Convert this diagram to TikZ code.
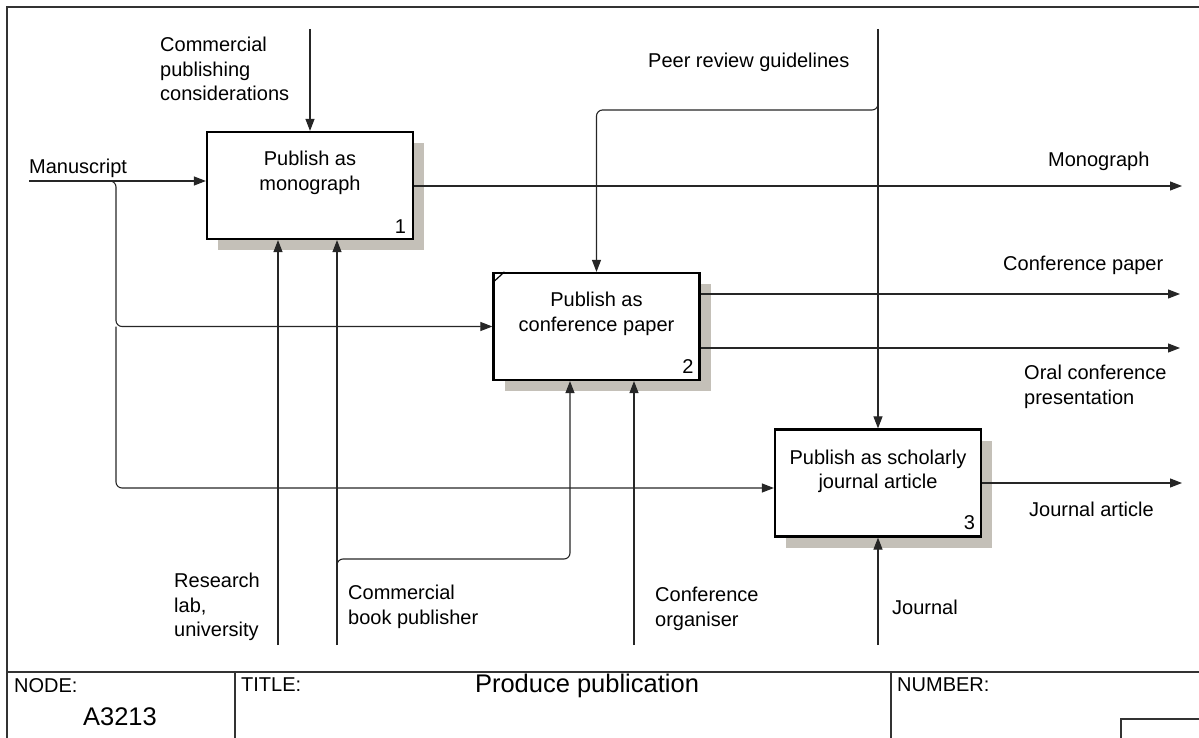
\documentclass[tikz,border=0pt]{standalone}
\usepackage{fontspec}
\setmainfont{Liberation Sans}
\usetikzlibrary{arrows.meta,shadows,calc}
\definecolor{shadowc}{RGB}{196,192,184}
\begin{document}
\begin{tikzpicture}[x=1pt,y=-1pt,
  every node/.style={font=\fontsize{20}{24.5}\selectfont, inner sep=0pt},
  box/.style={draw, line width=2.2pt, fill=white, minimum width=206pt, minimum height=107pt,
    drop shadow={shadow xshift=11pt, shadow yshift=-11pt, fill=shadowc, opacity=1}},
  conn/.style={line width=1.1pt, draw=black!85},
  arr/.style={conn, -{Triangle[length=12pt,width=9pt]}},
  rc/.style={rounded corners=6pt},
  lbl/.style={anchor=north west, align=left},
  btxt/.style={anchor=north, align=center},
  num/.style={anchor=base east},
  framec/.style={line width=1.5pt, draw=black!80},
  bigtxt/.style={font=\fontsize{25.5}{30}\selectfont}]
\useasboundingbox (0,0) rectangle (1199,738);

% frame and title block
\draw[framec] (7,738) -- (7,7) -- (1199,7);
\draw[framec] (7,672) -- (1199,672);
\draw[framec] (235,672) -- (235,738);
\draw[framec] (891,672) -- (891,738);
\draw[framec] (1121,738) -- (1121,719) -- (1199,719);
\node[lbl] (nodelbl) at (14,678) {NODE:};
\node[lbl] (titlelbl) at (241,678) {TITLE:};
\node[lbl] (numberlbl) at (897,678) {NUMBER:};
\node[bigtxt, anchor=north] (nodeval) at (120,707) {A3213};
\node[bigtxt, anchor=north] (titleval) at (587,674) {Produce publication};

% activity boxes
\node[box] (b1) at (310,185.5) {};
\node[box] (b2) at (596.5,326.5) {};
\node[box] (b3) at (878,483) {};
\draw[line width=1.2pt] ([yshift=-11pt]b2.north west) -- ([xshift=12pt]b2.north west);

\node[btxt] (t1) at ([yshift=-20pt]b1.north) {Publish as\\monograph};
\node[btxt] (t2) at ([yshift=-20pt]b2.north) {Publish as\\conference paper};
\node[btxt] (t3) at ([yshift=-21pt]b3.north) {Publish as scholarly\\journal article};
\node[num] (n1) at ([xshift=-8pt,yshift=7pt]b1.south east) {1};
\node[num] (n2) at ([xshift=-7pt,yshift=8pt]b2.south east) {2};
\node[num] (n3) at ([xshift=-7pt,yshift=8pt]b3.south east) {3};

% free ends
\coordinate (cp) at (310,29);
\coordinate (ms) at (29,181);
\coordinate (msb) at (116,181);
\coordinate (ms3) at (116,488);
\coordinate (pr) at (878,29);
\coordinate (prb) at (878,110);
\coordinate (o1) at (1182,186);
\coordinate (o2a) at (1180,294);
\coordinate (o2b) at (1180,348);
\coordinate (o3) at (1182,483);
\coordinate (rl) at (278,645);
\coordinate (bp) at (337,645);
\coordinate (bpb) at (337,559);
\coordinate (bpc) at (570,559);
\coordinate (co) at (634,645);
\coordinate (jn) at (878,645);

% controls
\draw[arr] (cp) -- (b1.north);
\draw[arr] (pr) -- (b3.north);
\draw[arr,rc] ($(prb)+(0,-20)$) -- (prb) -- (prb -| b2.north) -- (b2.north);

% inputs
\draw[arr] (ms) -- (ms -| b1.west);
\draw[arr,rc] ($(msb)+(-20,0)$) -- (msb) -- (msb |- b2.west) -- (b2.west);
\draw[arr,rc] (msb |- b2.west) -- (ms3) -- (ms3 -| b3.west);

% outputs
\draw[arr] (o1 -| b1.east) -- (o1);
\draw[arr] (o2a -| b2.east) -- (o2a);
\draw[arr] (o2b -| b2.east) -- (o2b);
\draw[arr] (b3.east) -- (o3);

% mechanisms
\draw[arr] (rl) -- (rl |- b1.south);
\draw[arr] (bp) -- (bp |- b1.south);
\draw[arr,rc] ($(bpb)+(0,20)$) -- (bpb) -- (bpc) -- (bpc |- b2.south);
\draw[arr] (co) -- (co |- b2.south);
\draw[arr] (jn) -- (b3.south);

% labels
\node[lbl] (lcp) at (160,37) {Commercial\\publishing\\considerations};
\node[lbl] (lms) at (29,159) {Manuscript};
\node[lbl] (lpr) at (648,53) {Peer review guidelines};
\node[lbl] (lmo) at (1048,152) {Monograph};
\node[lbl] (lcpap) at (1003,256) {Conference paper};
\node[lbl] (loral) at (1024,365) {Oral conference\\presentation};
\node[lbl] (lja) at (1029,502) {Journal article};
\node[lbl] (lrl) at (174,573) {Research\\lab,\\university};
\node[lbl] (lbp) at (348,585) {Commercial\\book publisher};
\node[lbl] (lco) at (655,587) {Conference\\organiser};
\node[lbl] (ljn) at (892,600) {Journal};
\end{tikzpicture}
\end{document}
